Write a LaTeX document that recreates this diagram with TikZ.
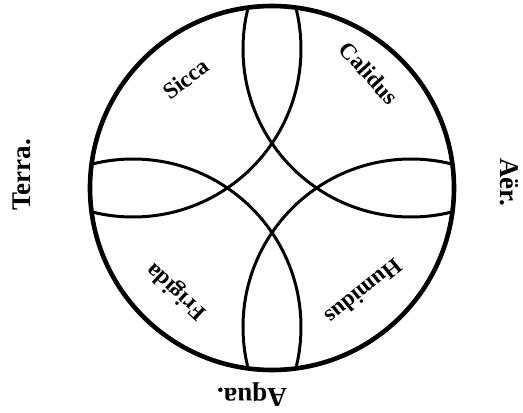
\documentclass[tikz,border=0pt]{standalone}
\usepackage{fontspec}
\setmainfont{Liberation Serif}
\begin{document}
\begin{tikzpicture}[x=1pt,y=1pt,
    quality/.style={font=\bfseries\fontsize{23}{23}\selectfont, inner sep=0pt},
    element/.style={font=\bfseries\fontsize{27}{27}\selectfont, inner sep=0pt}]
    \useasboundingbox (-272,-225) rectangle (251,188);
    \begin{scope}
      \clip (0,0) circle (182pt);
      \foreach \cx/\cy in {139/139,-139/139,-139/-139,139/-139}
        \draw[line width=3pt] (\cx,\cy) circle (168pt);
    \end{scope}
    \draw[line width=4.6pt] (0,0) circle (182pt);
    \node[quality, rotate=37] (sicca) at (-86,109) {Sicca};
    \node[quality, rotate=-48] (calidus) at (97,115) {Calidus};
    \node[quality, rotate=219] (humidus) at (92,-104) {Humidus};
    \node[quality, rotate=137] (frigida) at (-95,-103) {Frigida};
    \node[element, rotate=90] (terra) at (-250,13) {Terra.};
    \node[element, rotate=-90] (aer) at (237,6) {Aër.};
    \node[element, rotate=180] (aqua) at (-20,-207) {Aqua.};
  \end{tikzpicture}
\end{document}
